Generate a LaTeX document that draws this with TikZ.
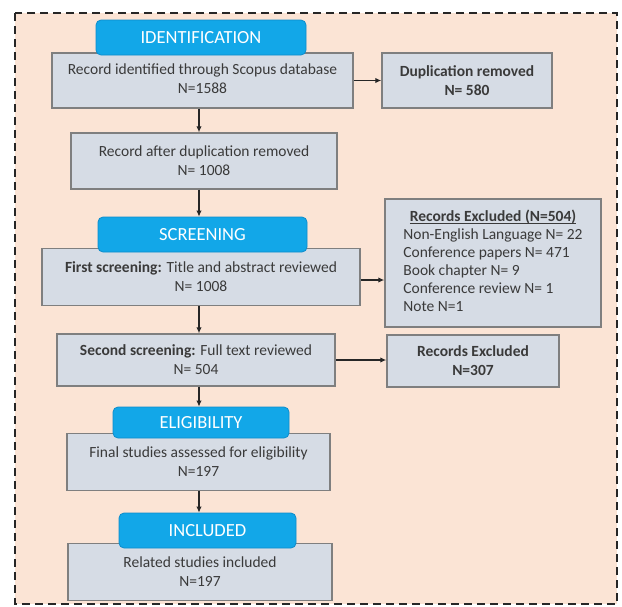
\documentclass[tikz,border=0pt]{standalone}
\usepackage{fontspec}
\setmainfont{Carlito}
\newcommand{\myuline}[1]{\setbox0\hbox{#1}\rlap{\rule[-2.5pt]{\wd0}{0.9pt}}\box0}
\usetikzlibrary{arrows.meta}
\definecolor{bgpeach}{HTML}{FBE4D5}
\definecolor{boxfill}{HTML}{D6DCE5}
\definecolor{boxline}{HTML}{7F7F7F}
\definecolor{tabblue}{HTML}{12A7E8}
\definecolor{tabline}{HTML}{0E8CCB}
\definecolor{txtgray}{HTML}{3A3A3A}
\definecolor{arrgray}{HTML}{262626}
\tikzset{
  flowbox/.style={draw=boxline, line width=1.4pt, fill=boxfill, inner sep=0pt,
    text=txtgray, align=center, font=\fontsize{15.5}{19}\selectfont},
  phasetab/.style={draw=tabline, line width=0.8pt, fill=tabblue, rounded corners=5pt,
    inner sep=0pt, text=white, font=\fontsize{18.5}{20}\selectfont},
  flowarrow/.style={draw=arrgray, line width=1.5pt, -{Latex[length=6pt,width=5.5pt]}},
  outerframe/.style={draw=black!85, line width=2pt, dash pattern=on 8pt off 5pt}
}
\begin{document}
\begin{tikzpicture}[x=1pt,y=-1pt]
\useasboundingbox (0,0) rectangle (622,606);
\fill[bgpeach] (15,13) rectangle (617,604);
\draw[outerframe] (15,13) rectangle (617,604);

\coordinate (spine) at (199,0);
\coordinate (h2) at (0,280);

% boxes
\node[flowbox, minimum width=301pt, minimum height=55pt] (b1) at (202.5,80.5)
  {Record identified through Scopus database\\N=1588\rule[-4pt]{0pt}{1pt}};
\node[flowbox, minimum width=170pt, minimum height=55pt] (dup) at (467,80.5)
  {\textbf{Duplication removed}\\\textbf{N= 580}};
\node[flowbox, minimum width=266pt, minimum height=56pt] (b2) at (204,161)
  {Record after duplication removed\\N= 1008};
\node[flowbox, minimum width=318pt, minimum height=57pt] (fs) at (201,277)
  {\textbf{First screening:} Title and abstract reviewed\\N= 1008};
\node[flowbox, minimum width=216pt, minimum height=128pt,
      font=\fontsize{15.5}{18}\selectfont] (ex) at (493,263)
  {\begin{tabular}{@{}l@{}}
   \multicolumn{1}{@{}c@{}}{\myuline{\textbf{Records Excluded (N=504)}}}\\
   Non-English Language N= 22\\
   Conference papers N= 471\\
   Book chapter N= 9\\
   Conference review N= 1\\
   Note N=1
   \end{tabular}};
\node[flowbox, minimum width=278pt, minimum height=52pt] (ss) at (196,360)
  {\textbf{Second screening:} Full text reviewed\\N= 504};
\node[flowbox, minimum width=172pt, minimum height=52pt] (ex2) at (473,361)
  {\textbf{Records Excluded}\\\textbf{N=307}};
\node[flowbox, minimum width=263pt, minimum height=57pt] (fin) at (198.5,462)
  {Final studies assessed for eligibility\\N=197};
\node[flowbox, minimum width=264pt, minimum height=57pt] (inc) at (200,572)
  {Related studies included\\N=197};

% phase tabs
\node[phasetab, minimum width=210pt, minimum height=35pt] (tid) at (201,37.5) {IDENTIFICATION};
\node[phasetab, minimum width=209pt, minimum height=35pt] (tsc) at (202.5,234.5) {SCREENING};
\node[phasetab, minimum width=176pt, minimum height=31pt] (tel) at (201,422.5) {ELIGIBILITY};
\node[phasetab, minimum width=177pt, minimum height=35pt] (tin) at (207.5,530.5) {INCLUDED};

% vertical arrows
\draw[flowarrow] (b1.south -| spine) -- (b2.north -| spine);
\draw[flowarrow] (b2.south -| spine) -- (tsc.north -| spine);
\draw[flowarrow] (fs.south -| spine) -- (ss.north -| spine);
\draw[flowarrow] (ss.south -| spine) -- (tel.north -| spine);
\draw[flowarrow] (fin.south -| spine) -- (tin.north -| spine);

% horizontal arrows
\draw[flowarrow] (b1.east) -- (dup.west);
\draw[flowarrow] (fs.east |- h2) -- (ex.west |- h2);
\draw[flowarrow] (ss.east) -- (ex2.west |- ss.east);
\end{tikzpicture}
\end{document}
